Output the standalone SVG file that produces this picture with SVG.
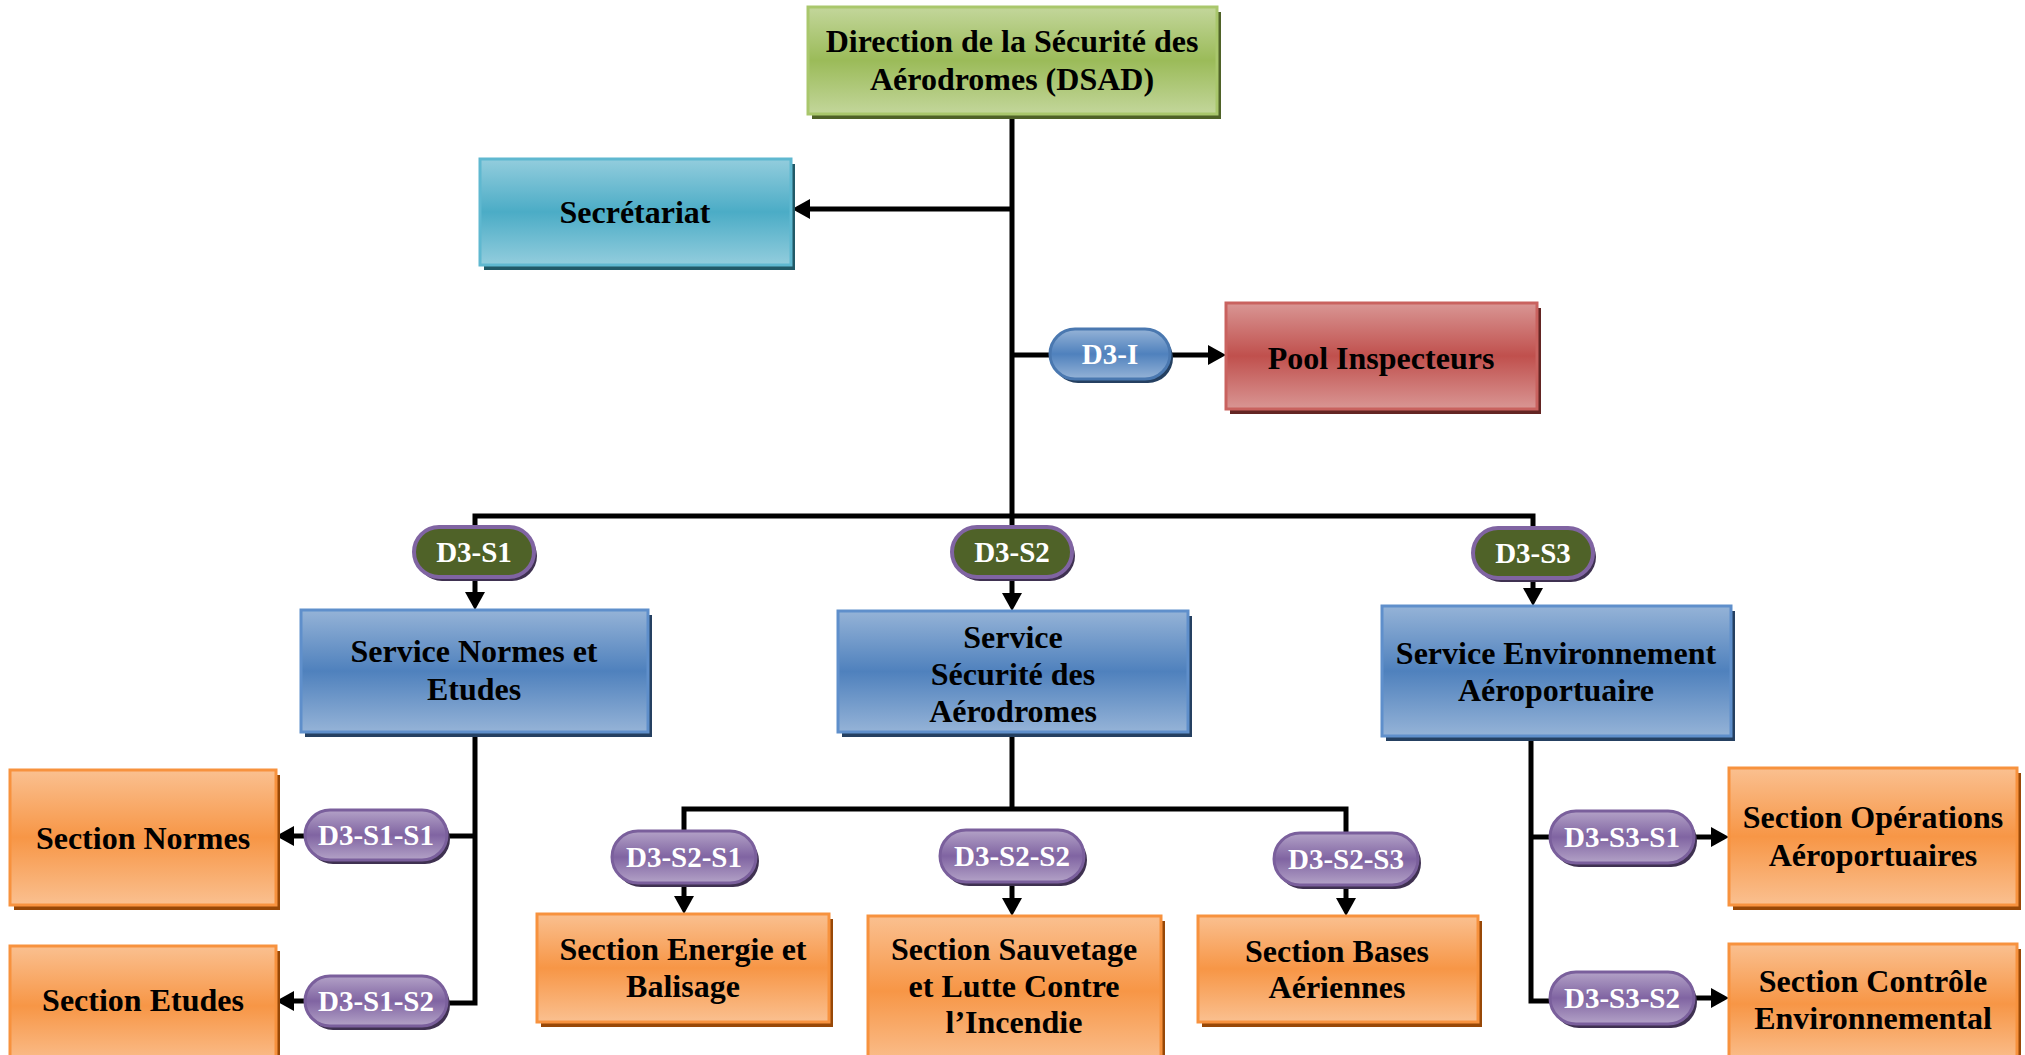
<svg xmlns="http://www.w3.org/2000/svg" width="2025" height="1055" viewBox="0 0 2025 1055">
<defs>
<linearGradient id="gGreen" x1="0" y1="0" x2="0" y2="1"><stop offset="0" stop-color="#c3d69b"/><stop offset="0.5" stop-color="#9bbb59"/><stop offset="1" stop-color="#c3d69b"/></linearGradient>
<linearGradient id="gCyan" x1="0" y1="0" x2="0" y2="1"><stop offset="0" stop-color="#93cddd"/><stop offset="0.5" stop-color="#4bacc6"/><stop offset="1" stop-color="#93cddd"/></linearGradient>
<linearGradient id="gRed" x1="0" y1="0" x2="0" y2="1"><stop offset="0" stop-color="#d99694"/><stop offset="0.5" stop-color="#c0504d"/><stop offset="1" stop-color="#d99694"/></linearGradient>
<linearGradient id="gBlue" x1="0" y1="0" x2="0" y2="1"><stop offset="0" stop-color="#95b3d7"/><stop offset="0.5" stop-color="#4f81bd"/><stop offset="1" stop-color="#95b3d7"/></linearGradient>
<linearGradient id="gOrange" x1="0" y1="0" x2="0" y2="1"><stop offset="0" stop-color="#fac090"/><stop offset="0.5" stop-color="#f79646"/><stop offset="1" stop-color="#fac090"/></linearGradient>
<linearGradient id="gPurple" x1="0" y1="0" x2="0" y2="1"><stop offset="0" stop-color="#b3a2c7"/><stop offset="0.5" stop-color="#8064a2"/><stop offset="1" stop-color="#b3a2c7"/></linearGradient>
<linearGradient id="gPillBlue" x1="0" y1="0" x2="0" y2="1"><stop offset="0" stop-color="#95b3d7"/><stop offset="0.5" stop-color="#4f81bd"/><stop offset="1" stop-color="#95b3d7"/></linearGradient>
<marker id="arr" viewBox="0 0 18 20" refX="13" refY="10" markerWidth="18" markerHeight="20" markerUnits="userSpaceOnUse" orient="auto"><path d="M0,0 L18,10 L0,20 z" fill="#000"/></marker>
</defs>
<style>
.t{font-family:"Liberation Serif","Times New Roman",serif;font-weight:bold;font-size:32px;fill:#000;text-anchor:middle}
.p{font-family:"Liberation Serif","Times New Roman",serif;font-weight:bold;font-size:29px;fill:#fff;text-anchor:middle}
.green{fill:url(#gGreen);stroke:#a9c76c;stroke-width:3}
.cyan{fill:url(#gCyan);stroke:#5fb8d0;stroke-width:3}
.red{fill:url(#gRed);stroke:#c9625f;stroke-width:3}
.blue{fill:url(#gBlue);stroke:#5f8fcb;stroke-width:3}
.orange{fill:url(#gOrange);stroke:#f7923e;stroke-width:3}
.sGreen{fill:#4f6228}.sCyan{fill:#215967}.sRed{fill:#632523}.sBlue{fill:#254061}.sOrange{fill:#984807}
.pill{fill:url(#gPurple);stroke:#7a5f9c;stroke-width:3}
.pillB{fill:url(#gPillBlue);stroke:#4a78b0;stroke-width:3}
.pillG{fill:#4f6228;stroke:#8064a2;stroke-width:4}
.ps{fill:#3f3151}
.psB{fill:#254061}
.c{fill:none;stroke:#000;stroke-width:5}
.a{fill:none;stroke:#000;stroke-width:5;marker-end:url(#arr)}
</style>
<rect width="2025" height="1055" fill="#fff"/>
<g id="connectors">
<path class="c" d="M1012 115 V516"/>
<path class="a" d="M1012 209 H797"/>
<path class="c" d="M1012 355 H1052"/>
<path class="a" d="M1168 355 H1221"/>
<path class="c" d="M475 530 V516 H1533 V530"/>
<path class="c" d="M1012 516 V530"/>
<path class="a" d="M475 578 V605"/>
<path class="a" d="M1012 578 V606"/>
<path class="a" d="M1533 579 V601"/>
<path class="c" d="M475 734 V1003 H445"/>
<path class="c" d="M475 836 H445"/>
<path class="a" d="M307 836 H281"/>
<path class="a" d="M307 1001 H281"/>
<path class="c" d="M1012 732 V809"/>
<path class="c" d="M684 832 V809 H1346 V834"/>
<path class="a" d="M684 880 V909"/>
<path class="a" d="M1012 880 V911"/>
<path class="a" d="M1346 882 V911"/>
<path class="c" d="M1531 736 V1001 H1552"/>
<path class="c" d="M1531 837 H1552"/>
<path class="a" d="M1692 837 H1724"/>
<path class="a" d="M1692 998 H1724"/>
</g>
<g id="dsad">
<rect class="sGreen" x="812" y="12" width="409" height="107"/>
<rect class="green" x="808" y="7" width="409" height="107"/>
<text class="t" x="1012" y="52">Direction de la Sécurité des</text>
<text class="t" x="1012" y="90">Aérodromes (DSAD)</text>
</g>
<g id="secretariat">
<rect class="sCyan" x="484" y="164" width="311" height="106"/>
<rect class="cyan" x="480" y="159" width="311" height="106"/>
<text class="t" x="635" y="223">Secrétariat</text>
</g>
<g id="pool">
<rect class="sRed" x="1230" y="308" width="311" height="106"/>
<rect class="red" x="1226" y="303" width="311" height="106"/>
<text class="t" x="1381" y="369">Pool Inspecteurs</text>
</g>
<g id="d3i">
<rect class="psB" x="1053" y="333" width="120" height="50" rx="25"/>
<rect class="pillB" x="1050" y="329" width="120" height="50" rx="25"/>
<text class="p" x="1110" y="364">D3-I</text>
</g>
<g id="d3s1">
<rect class="ps" x="417" y="531" width="120" height="50" rx="25"/>
<rect class="pillG" x="414" y="527" width="120" height="50" rx="25"/>
<text class="p" x="474" y="562">D3-S1</text>
</g>
<g id="d3s2">
<rect class="ps" x="955" y="531" width="120" height="50" rx="25"/>
<rect class="pillG" x="952" y="527" width="120" height="50" rx="25"/>
<text class="p" x="1012" y="562">D3-S2</text>
</g>
<g id="d3s3">
<rect class="ps" x="1476" y="532" width="120" height="50" rx="25"/>
<rect class="pillG" x="1473" y="528" width="120" height="50" rx="25"/>
<text class="p" x="1533" y="563">D3-S3</text>
</g>
<g id="svc-normes">
<rect class="sBlue" x="305" y="615" width="347" height="122"/>
<rect class="blue" x="301" y="610" width="347" height="122"/>
<text class="t" x="474" y="662">Service Normes et</text>
<text class="t" x="474" y="700">Etudes</text>
</g>
<g id="svc-securite">
<rect class="sBlue" x="842" y="616" width="350" height="121"/>
<rect class="blue" x="838" y="611" width="350" height="121"/>
<text class="t" x="1013" y="648">Service</text>
<text class="t" x="1013" y="685">Sécurité des</text>
<text class="t" x="1013" y="722">Aérodromes</text>
</g>
<g id="svc-env">
<rect class="sBlue" x="1386" y="611" width="349" height="130"/>
<rect class="blue" x="1382" y="606" width="349" height="130"/>
<text class="t" x="1556" y="664">Service Environnement</text>
<text class="t" x="1556" y="701">Aéroportuaire</text>
</g>
<g id="d3s1s1">
<rect class="ps" x="308" y="814" width="142" height="50" rx="25"/>
<rect class="pill" x="305" y="810" width="142" height="50" rx="25"/>
<text class="p" x="376" y="845">D3-S1-S1</text>
</g>
<g id="d3s1s2">
<rect class="ps" x="308" y="980" width="142" height="50" rx="25"/>
<rect class="pill" x="305" y="976" width="142" height="50" rx="25"/>
<text class="p" x="376" y="1011">D3-S1-S2</text>
</g>
<g id="sec-normes">
<rect class="sOrange" x="14" y="775" width="266" height="135"/>
<rect class="orange" x="10" y="770" width="266" height="135"/>
<text class="t" x="143" y="849">Section Normes</text>
</g>
<g id="sec-etudes">
<rect class="sOrange" x="14" y="951" width="266" height="120"/>
<rect class="orange" x="10" y="946" width="266" height="120"/>
<text class="t" x="143" y="1011">Section Etudes</text>
</g>
<g id="d3s2s1">
<rect class="ps" x="615" y="835" width="144" height="52" rx="26"/>
<rect class="pill" x="612" y="831" width="144" height="52" rx="26"/>
<text class="p" x="684" y="867">D3-S2-S1</text>
</g>
<g id="d3s2s2">
<rect class="ps" x="943" y="834" width="144" height="52" rx="26"/>
<rect class="pill" x="940" y="830" width="144" height="52" rx="26"/>
<text class="p" x="1012" y="866">D3-S2-S2</text>
</g>
<g id="d3s2s3">
<rect class="ps" x="1277" y="837" width="144" height="52" rx="26"/>
<rect class="pill" x="1274" y="833" width="144" height="52" rx="26"/>
<text class="p" x="1346" y="869">D3-S2-S3</text>
</g>
<g id="sec-energie">
<rect class="sOrange" x="541" y="919" width="292" height="108"/>
<rect class="orange" x="537" y="914" width="292" height="108"/>
<text class="t" x="683" y="960">Section Energie et</text>
<text class="t" x="683" y="997">Balisage</text>
</g>
<g id="sec-sauvetage">
<rect class="sOrange" x="872" y="921" width="293" height="150"/>
<rect class="orange" x="868" y="916" width="293" height="150"/>
<text class="t" x="1014" y="960">Section Sauvetage</text>
<text class="t" x="1014" y="997">et Lutte Contre</text>
<text class="t" x="1014" y="1033">l’Incendie</text>
</g>
<g id="sec-bases">
<rect class="sOrange" x="1202" y="921" width="280" height="106"/>
<rect class="orange" x="1198" y="916" width="280" height="106"/>
<text class="t" x="1337" y="962">Section Bases</text>
<text class="t" x="1337" y="998">Aériennes</text>
</g>
<g id="d3s3s1">
<rect class="ps" x="1553" y="815" width="144" height="52" rx="26"/>
<rect class="pill" x="1550" y="811" width="144" height="52" rx="26"/>
<text class="p" x="1622" y="847">D3-S3-S1</text>
</g>
<g id="d3s3s2">
<rect class="ps" x="1553" y="976" width="144" height="52" rx="26"/>
<rect class="pill" x="1550" y="972" width="144" height="52" rx="26"/>
<text class="p" x="1622" y="1008">D3-S3-S2</text>
</g>
<g id="sec-operations">
<rect class="sOrange" x="1733" y="773" width="288" height="137"/>
<rect class="orange" x="1729" y="768" width="288" height="137"/>
<text class="t" x="1873" y="828">Section Opérations</text>
<text class="t" x="1873" y="866">Aéroportuaires</text>
</g>
<g id="sec-controle">
<rect class="sOrange" x="1733" y="949" width="288" height="120"/>
<rect class="orange" x="1729" y="944" width="288" height="120"/>
<text class="t" x="1873" y="992">Section Contrôle</text>
<text class="t" x="1873" y="1029">Environnemental</text>
</g>
</svg>
